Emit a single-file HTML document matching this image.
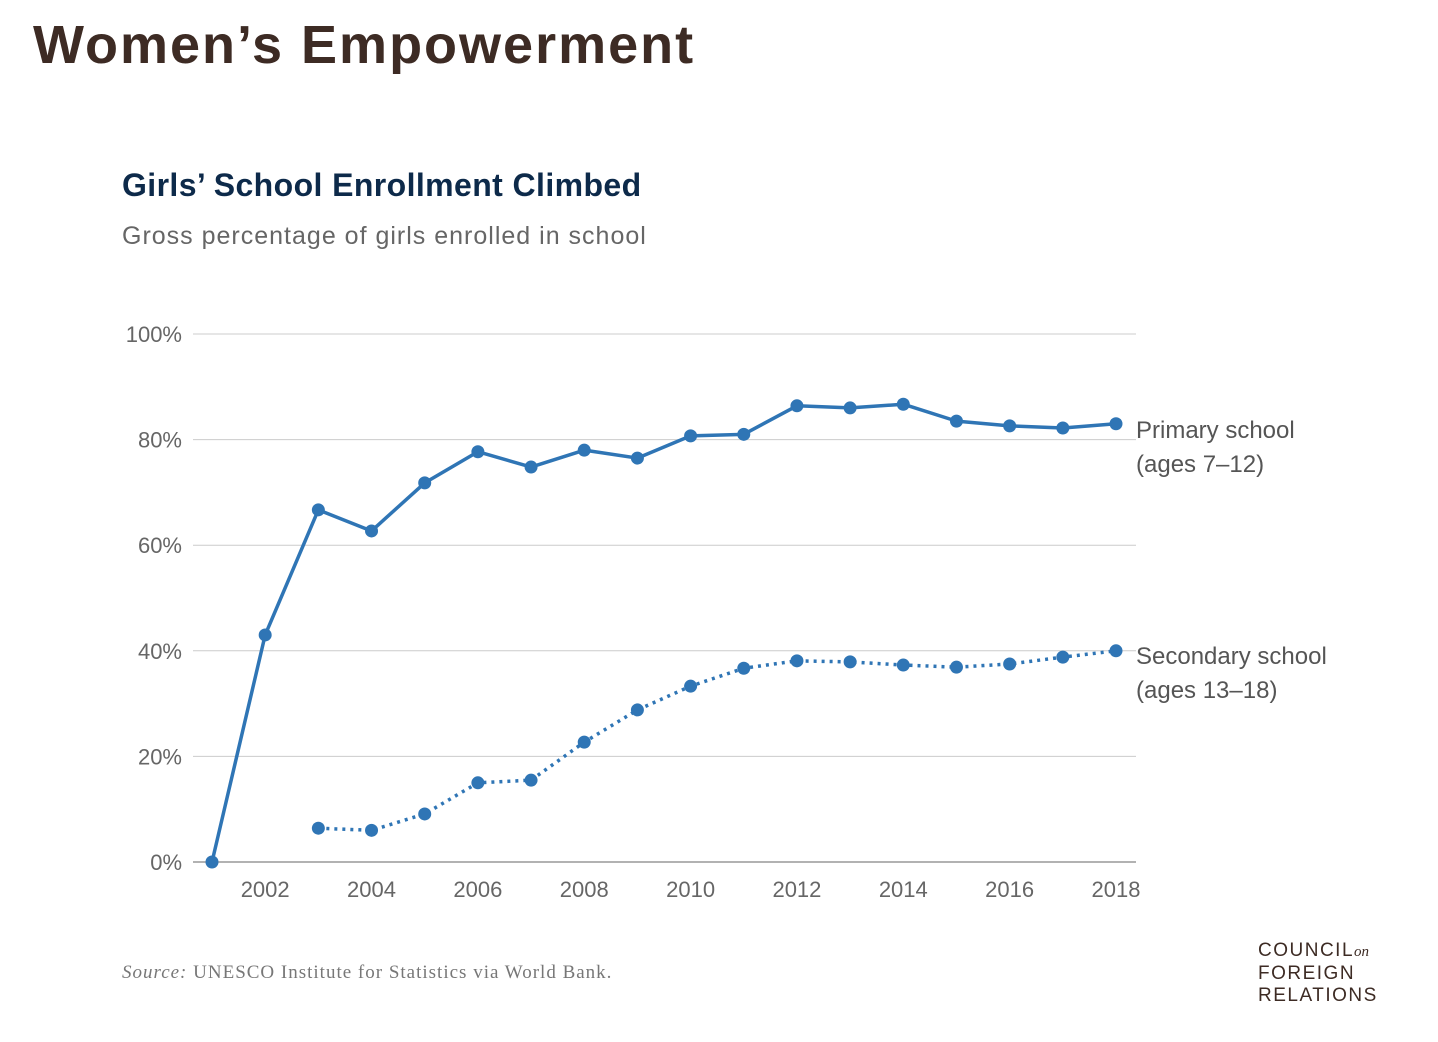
<!DOCTYPE html>
<html><head><meta charset="utf-8"><style>
body{margin:0;width:1438px;height:1042px;background:#fff;font-family:"Liberation Sans",sans-serif;position:relative;overflow:hidden}
.abs{position:absolute;white-space:nowrap}
</style></head><body>
<div class="abs" style="left:33px;top:14px;font-size:54px;font-weight:bold;color:#3d2b24;letter-spacing:2px">Women’s Empowerment</div>
<div class="abs" style="left:122px;top:167px;font-size:32px;font-weight:bold;color:#0d2a4a;letter-spacing:0.4px">Girls’ School Enrollment Climbed</div>
<div class="abs" style="left:122px;top:222px;font-size:25px;color:#666;letter-spacing:1px">Gross percentage of girls enrolled in school</div>
<svg class="abs" style="left:0;top:0" width="1438" height="1042" id="chart"></svg>
<div class="abs" style="left:122px;top:962px;font-size:19px;font-family:'Liberation Serif',serif;color:#777;letter-spacing:1px"><i>Source:</i> UNESCO Institute for Statistics via World Bank.</div>
<div class="abs" style="left:1258px;top:940px;font-size:19px;line-height:22px;letter-spacing:1.5px;color:#3d2b24">COUNCIL<i style="font-family:'Liberation Serif',serif;letter-spacing:0;font-size:15px">on</i><br>FOREIGN<br>RELATIONS</div>
<script>
const years=[2001,2002,2003,2004,2005,2006,2007,2008,2009,2010,2011,2012,2013,2014,2015,2016,2017,2018];
const primary=[0,43,66.7,62.7,71.8,77.7,74.8,78,76.5,80.7,81,86.4,86,86.7,83.5,82.6,82.2,83];
const secondaryYears=[2003,2004,2005,2006,2007,2008,2009,2010,2011,2012,2013,2014,2015,2016,2017,2018];
const secondary=[6.4,6,9.1,15,15.5,22.7,28.8,33.3,36.7,38.1,37.9,37.3,36.9,37.5,38.8,40];
const yTicks=[0,20,40,60,80,100];
const xTicks=[2002,2004,2006,2008,2010,2012,2014,2016,2018];
const svg=document.getElementById('chart');const NS='http://www.w3.org/2000/svg';
const x=v=>212+(v-2001)*(1116-212)/17;
const y=v=>862-v*5.28;
function mk(t,a,parent){const e=document.createElementNS(NS,t);for(const k in a)e.setAttribute(k,a[k]);(parent||svg).appendChild(e);return e;}
yTicks.forEach(t=>{
 const l=mk('line',{x1:193,x2:1136,y1:y(t),y2:y(t),stroke:t===0?'#999':'#ccc','stroke-width':t===0?1.5:1});
 
 
 const tx=mk('text',{x:182,y:y(t)+8,'text-anchor':'end','font-size':22,fill:'#666','font-family':'Liberation Sans, sans-serif'});tx.textContent=t+'%';
 
 
});
xTicks.forEach(t=>{
 const tx=mk('text',{x:x(t),y:897,'text-anchor':'middle','font-size':22,fill:'#666','font-family':'Liberation Sans, sans-serif'});tx.textContent=t;
 
 
});
function series(xs,vs,name,dash){
 const p=mk('polyline',{points:xs.map((yr,i)=>x(yr)+','+y(vs[i])).join(' '),fill:'none',stroke:'#2f75b5','stroke-width':3.5,'stroke-dasharray':dash||'none','stroke-linejoin':'round'});
 
 
 xs.forEach((yr,i)=>{const c=mk('circle',{cx:x(yr),cy:y(vs[i]),r:6.5,fill:'#2f75b5'});
 
 });
}
series(years,primary,'primary');
series(secondaryYears,secondary,'secondary','3 5');
function lab(txt,yy,n){const t=mk('text',{x:1136,y:yy,'font-size':24,fill:'#555','font-family':'Liberation Sans, sans-serif'});t.textContent=txt;
 
 }
lab('Primary school',438,'primary-label');lab('(ages 7–12)',472,'primary-age-label');
lab('Secondary school',664,'secondary-label');lab('(ages 13–18)',698,'secondary-age-label');
</script>
</body></html>
